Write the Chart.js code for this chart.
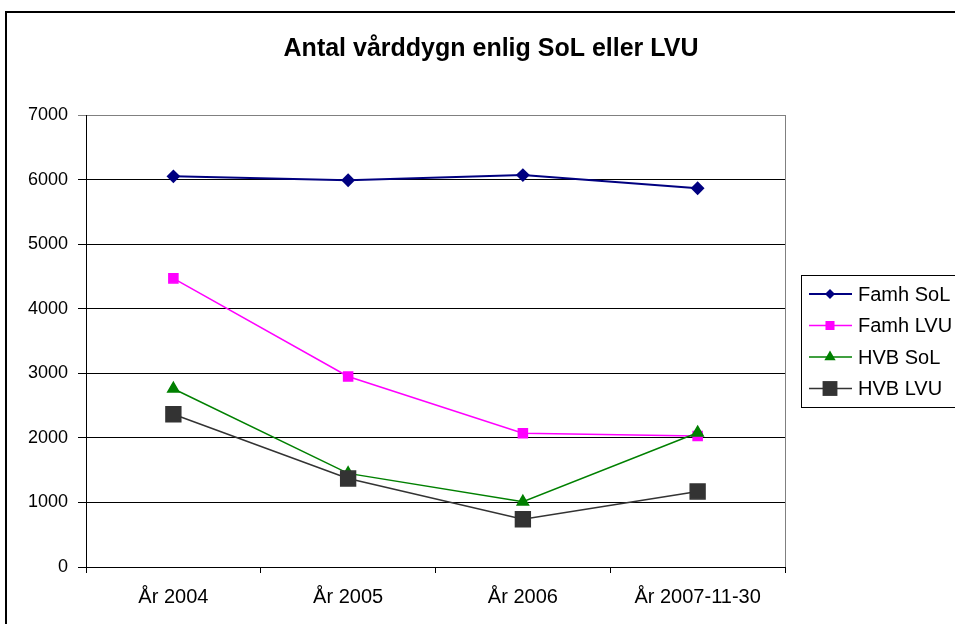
<!DOCTYPE html>
<html>
<head>
<meta charset="utf-8">
<script src="https://cdn.jsdelivr.net/npm/chart.js@4"></script>
<style>
  html, body { margin: 0; padding: 0; background: #fff; overflow: hidden; }
  #wrap { position: relative; width: 955px; height: 624px; }
</style>
</head>
<body>
<div id="wrap"><canvas id="chart" width="955" height="624"></canvas></div>
<script>
const FONT = "'Liberation Sans', Arial, sans-serif";

// Data
const categories = ["År 2004", "År 2005", "År 2006", "År 2007-11-30"];
const famhSoL = [6050, 5990, 6070, 5865];
const famhLVU = [4470, 2950, 2070, 2030];
const hvbSoL = [2760, 1450, 1010, 2080];
const hvbLVU = [2365, 1370, 740, 1170];
const titleText = "Antal vårddygn enlig SoL eller LVU";

// draw a marker like the ones on the lines (used by the legend)
function marker(ctx, style, x, y, r, color) {
  ctx.save();
  ctx.fillStyle = color;
  ctx.beginPath();
  if (style === "rectRot") {
    ctx.moveTo(x, y - r); ctx.lineTo(x + r, y); ctx.lineTo(x, y + r); ctx.lineTo(x - r, y);
  } else if (style === "triangle") {
    ctx.moveTo(x, y - r);
    ctx.lineTo(x + r * 0.866, y + r * 0.5);
    ctx.lineTo(x - r * 0.866, y + r * 0.5);
  } else {
    const s = r * Math.SQRT1_2;
    ctx.rect(x - s, y - s, 2 * s, 2 * s);
  }
  ctx.closePath();
  ctx.fill();
  ctx.restore();
}

// title, outer frame, right border of plot and the boxed legend
const decor = {
  id: "decor",
  afterDraw(chart) {
    const ctx = chart.ctx;
    const a = chart.chartArea;
    ctx.save();
    // outer frame
    ctx.strokeStyle = "#000";
    ctx.lineWidth = 2;
    ctx.beginPath();
    ctx.moveTo(6, 640); ctx.lineTo(6, 12); ctx.lineTo(970, 12);
    ctx.stroke();
    // plot area right border
    ctx.lineWidth = 1;
    ctx.strokeStyle = "#808080";
    ctx.beginPath();
    ctx.moveTo(a.right + 0.5, a.top); ctx.lineTo(a.right + 0.5, a.bottom);
    ctx.stroke();
    // title
    ctx.fillStyle = "#000";
    ctx.font = "bold 25px " + FONT;
    ctx.textAlign = "center";
    ctx.textBaseline = "middle";
    ctx.fillText(titleText, 491, 49);
    // legend box
    ctx.strokeStyle = "#000";
    ctx.strokeRect(801.5, 275.5, 200, 132);
    ctx.font = "20px " + FONT;
    ctx.textAlign = "left";
    chart.data.datasets.forEach((ds, i) => {
      const y = 294 + i * 31.5;
      ctx.strokeStyle = ds.borderColor;
      ctx.lineWidth = ds.borderWidth;
      ctx.beginPath();
      ctx.moveTo(809, y); ctx.lineTo(852, y);
      ctx.stroke();
      marker(ctx, ds.pointStyle, 830, y, ds.legendRadius, ds.pointBackgroundColor);
      ctx.fillStyle = "#000";
      ctx.fillText(ds.label, 858, y + 1);
    });
    ctx.restore();
  }
};

new Chart(document.getElementById("chart"), {
  type: "line",
  plugins: [decor],
  data: {
    labels: categories,
    datasets: [
      { label: "Famh SoL", data: famhSoL, order: 4, borderColor: "#000080", pointBackgroundColor: "#000080",
        pointBorderColor: "#000080", borderWidth: 2, pointStyle: "rectRot", pointRadius: 5.5, legendRadius: 5 },
      { label: "Famh LVU", data: famhLVU, order: 3, borderColor: "#FF00FF", pointBackgroundColor: "#FF00FF",
        pointBorderColor: "#FF00FF", borderWidth: 1.5, pointStyle: "rect", pointRadius: 6.4, legendRadius: 6.4 },
      { label: "HVB SoL", data: hvbSoL, order: 2, borderColor: "#008000", pointBackgroundColor: "#008000",
        pointBorderColor: "#008000", borderWidth: 1.5, pointStyle: "triangle", pointRadius: 6.5, legendRadius: 6.5 },
      { label: "HVB LVU", data: hvbLVU, order: 1, borderColor: "#333333", pointBackgroundColor: "#333333",
        pointBorderColor: "#333333", borderWidth: 1.5, pointStyle: "rect", pointRadius: 10.5, legendRadius: 10.5 }
    ]
  },
  options: {
    responsive: false,
    animation: false,
    layout: { padding: { left: 0, top: 115, right: 170, bottom: 0 } },
    elements: { line: { tension: 0 }, point: { borderWidth: 0, hoverRadius: 6 } },
    plugins: {
      legend: { display: false },
      title: { display: false },
      tooltip: { enabled: false }
    },
    scales: {
      x: {
        offset: true,
        grid: { offset: true, drawOnChartArea: false, color: "#000", tickLength: 6 },
        border: { color: "#000", width: 1 },
        ticks: { color: "#000", font: { family: FONT, size: 20 }, padding: 12, maxRotation: 0 },
        afterFit(scale) { scale.height = 57; }
      },
      y: {
        min: 0,
        max: 7000,
        ticks: {
          stepSize: 1000, color: "#000", font: { family: FONT, size: 18 }, padding: 10,
          callback: (v) => String(v)
        },
        grid: {
          color: (c) => (c.tick && c.tick.value === 7000 ? "#808080" : "#000"),
          tickLength: 8
        },
        border: { color: "#000", width: 1 },
        afterFit(scale) { scale.width = 86; }
      }
    }
  }
});
</script>
</body>
</html>
